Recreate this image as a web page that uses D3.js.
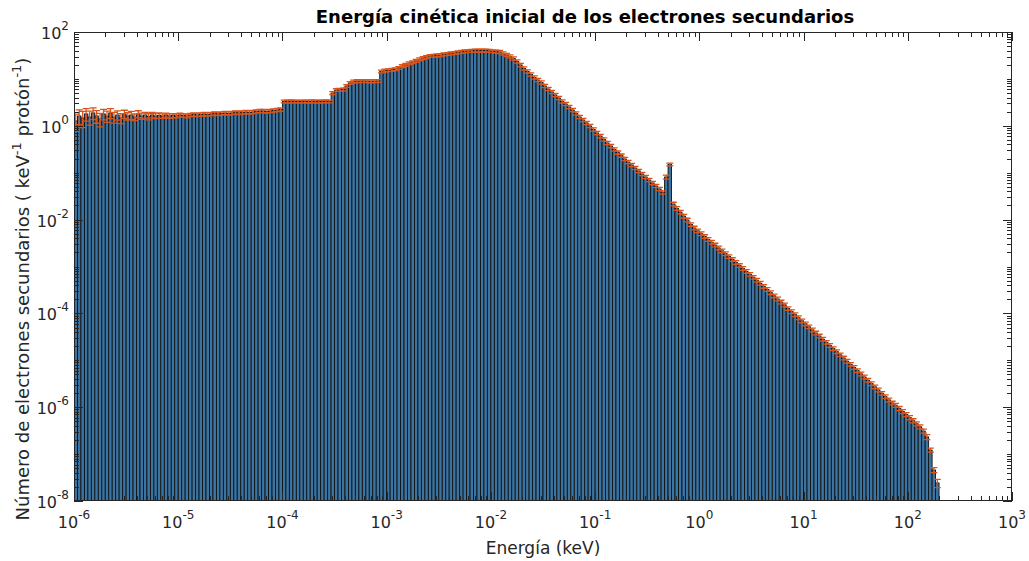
<!DOCTYPE html>
<html>
<head>
<meta charset="utf-8">
<script src="https://cdn.jsdelivr.net/npm/d3@7"></script>
<style>
  body { margin: 0; background: #fff; }
  text { font-family: "DejaVu Sans", sans-serif; fill: #262626; }
</style>
</head>
<body>
<svg id="chart" width="1029" height="561"></svg>
<script>
  // histogram of secondary electron initial kinetic energy, 30 log bins per decade from 1e-6 keV
  const firstEdge = 1e-6;
  const binsPerDecade = 30;

  // counts per bin (keV^-1 proton^-1)
  const counts = [
    1.27, 1.62, 1.47, 1.79, 1.54, 1.88, 1.62, 1.40, 1.79, 1.62,
    1.88, 1.54, 1.70, 1.47, 1.79, 1.62, 1.70, 1.54, 1.79, 1.62,
    1.70, 1.58, 1.70, 1.62, 1.66, 1.62, 1.70, 1.62, 1.66, 1.62,
    1.70, 1.66, 1.62, 1.70, 1.74, 1.70, 1.74, 1.79, 1.74, 1.79,
    1.83, 1.79, 1.83, 1.88, 1.83, 1.88, 1.92, 1.88, 1.92, 1.97,
    1.92, 1.97, 2.02, 2.07, 2.07, 2.02, 2.07, 2.12, 2.17, 2.23,
    3.30, 3.28, 3.32, 3.30, 3.27, 3.31, 3.30, 3.29, 3.33, 3.30,
    3.28, 3.30, 3.32, 3.30, 5.0, 5.8, 5.85, 5.95, 7.06, 8.18,
    8.8, 9.02, 8.95, 9.05, 9.0, 8.9, 9.0, 9.05, 14.4, 15.1,
    15.3, 15.6, 16.1, 17.1, 18.7, 20.0, 21.6, 22.7, 24.3, 26.2,
    27.9, 29.3, 30.8, 31.1, 31.7, 32.3, 33.3, 34.1, 35.0, 35.8,
    36.9, 37.8, 38.6, 39.4, 39.7, 40.1, 40.3, 40.3, 40.1, 39.7,
    39.0, 38.2, 37.5, 34.8, 32.3, 30.0, 27.2, 23.5, 19.8, 16.7,
    14.4, 12.4, 10.7, 9.48, 8.38, 7.06, 6.09, 5.26, 4.54, 3.92,
    3.30, 2.92, 2.52, 2.17, 1.83, 1.54, 1.33, 1.15, 0.99, 0.834,
    0.702, 0.605, 0.510, 0.430, 0.371, 0.312, 0.269, 0.232, 0.196, 0.169,
    0.146, 0.126, 0.109, 0.0938, 0.0809, 0.0698, 0.0603, 0.0520, 0.0449, 0.0378,
    0.0809, 0.150, 0.0215, 0.0173, 0.0145, 0.0119, 0.00980, 0.00785, 0.00662, 0.00577,
    0.00500, 0.00436, 0.00378, 0.00330, 0.00287, 0.00249, 0.00216, 0.00188, 0.00163, 0.00141,
    0.00122, 0.00105, 9.12e-4, 7.87e-4, 6.82e-4, 5.89e-4, 5.11e-4, 4.41e-4, 3.78e-4, 3.24e-4,
    2.78e-4, 2.37e-4, 2.03e-4, 1.75e-4, 1.52e-4, 1.27e-4, 1.09e-4, 9.42e-5, 8.09e-5, 6.95e-5,
    6.00e-5, 5.18e-5, 4.45e-5, 3.82e-5, 3.30e-5, 2.82e-5, 2.42e-5, 2.08e-5, 1.78e-5, 1.53e-5,
    1.31e-5, 1.12e-5, 9.57e-6, 8.22e-6, 7.06e-6, 6.03e-6, 5.13e-6, 4.41e-6, 3.75e-6, 3.18e-6,
    2.72e-6, 2.33e-6, 1.98e-6, 1.68e-6, 1.43e-6, 1.23e-6, 1.10e-6, 9.42e-7, 8.09e-7, 6.98e-7,
    6.00e-7, 5.15e-7, 4.43e-7, 3.82e-7, 3.10e-7, 2.32e-7, 1.22e-7, 4.58e-8, 2.42e-8
  ];

  // relative statistical error of each bin
  const relErr = [
    0.40, 0.35, 0.38, 0.30, 0.33, 0.28, 0.30, 0.32, 0.25, 0.27,
    0.24, 0.26, 0.22, 0.24, 0.20, 0.18, 0.19, 0.16, 0.17, 0.15,
    0.14, 0.15, 0.13, 0.12, 0.13, 0.11, 0.10, 0.11, 0.10, 0.09,
    0.09, 0.08, 0.09, 0.08, 0.08, 0.08, 0.08, 0.08, 0.08, 0.08,
    0.08, 0.08, 0.08, 0.08, 0.08, 0.08, 0.08, 0.08, 0.08, 0.08,
    0.08, 0.08, 0.08, 0.08, 0.08, 0.08, 0.08, 0.08, 0.08, 0.08,
    0.07, 0.07, 0.07, 0.07, 0.07, 0.07, 0.07, 0.07, 0.07, 0.07,
    0.07, 0.07, 0.07, 0.07, 0.07, 0.07, 0.07, 0.07, 0.07, 0.07,
    0.07, 0.07, 0.07, 0.07, 0.07, 0.07, 0.07, 0.07, 0.07, 0.07,
    0.07, 0.07, 0.07, 0.07, 0.07, 0.07, 0.07, 0.07, 0.07, 0.07,
    0.07, 0.07, 0.07, 0.07, 0.07, 0.07, 0.07, 0.07, 0.07, 0.07,
    0.07, 0.07, 0.07, 0.07, 0.07, 0.07, 0.07, 0.07, 0.07, 0.07,
    0.07, 0.07, 0.08, 0.08, 0.08, 0.08, 0.08, 0.08, 0.08, 0.08,
    0.08, 0.08, 0.08, 0.08, 0.08, 0.08, 0.08, 0.08, 0.08, 0.08,
    0.08, 0.08, 0.08, 0.08, 0.08, 0.08, 0.08, 0.08, 0.08, 0.08,
    0.08, 0.08, 0.08, 0.08, 0.08, 0.08, 0.08, 0.08, 0.08, 0.08,
    0.08, 0.08, 0.08, 0.08, 0.08, 0.08, 0.08, 0.08, 0.08, 0.08,
    0.10, 0.07, 0.09, 0.09, 0.09, 0.09, 0.09, 0.09, 0.09, 0.09,
    0.09, 0.09, 0.09, 0.09, 0.09, 0.09, 0.09, 0.09, 0.09, 0.09,
    0.09, 0.09, 0.09, 0.09, 0.09, 0.09, 0.09, 0.09, 0.09, 0.09,
    0.09, 0.09, 0.09, 0.09, 0.09, 0.09, 0.09, 0.09, 0.09, 0.09,
    0.09, 0.09, 0.09, 0.09, 0.09, 0.09, 0.09, 0.09, 0.09, 0.09,
    0.09, 0.09, 0.09, 0.09, 0.09, 0.09, 0.09, 0.09, 0.09, 0.09,
    0.09, 0.09, 0.09, 0.09, 0.09, 0.09, 0.10, 0.10, 0.10, 0.10,
    0.10, 0.10, 0.10, 0.10, 0.10, 0.12, 0.10, 0.12, 0.20
  ];

  const xTickExps = [-6, -5, -4, -3, -2, -1, 0, 1, 2, 3];
  const yTickExps = [-8, -6, -4, -2, 0, 2];

  const svg = d3.select("#chart");
  const pLeft = 74, pRight = 1012, pTop = 32, pBottom = 501;

  const x = d3.scaleLog().domain([1e-6, 1e3]).range([pLeft, pRight]);
  const y = d3.scaleLog().domain([1e-8, 1e2]).range([pBottom, pTop]);

  const edges = d3.range(counts.length + 1).map(i => firstEdge * Math.pow(10, i / binsPerDecade));

  svg.append("defs").append("clipPath").attr("id", "clip")
    .append("rect").attr("x", pLeft).attr("y", pTop).attr("width", pRight - pLeft).attr("height", pBottom - pTop);

  const plot = svg.append("g").attr("clip-path", "url(#clip)");

  plot.append("g").selectAll("rect")
    .data(counts)
    .join("rect")
      .attr("x", (d, i) => x(edges[i]))
      .attr("width", (d, i) => x(edges[i + 1]) - x(edges[i]))
      .attr("y", d => y(d))
      .attr("height", d => pBottom - y(d))
      .attr("fill", "#3a74a3")
      .attr("stroke", "#111")
      .attr("stroke-width", 0.9);

  // error bars
  const eb = plot.append("g").attr("stroke", "#D95319").attr("stroke-width", 1.3).attr("fill", "none");
  counts.forEach((d, i) => {
    const cx = (x(edges[i]) + x(edges[i + 1])) / 2;
    const yHi = y(d * (1 + relErr[i]));
    const yLo = y(Math.max(d * (1 - relErr[i]), 1e-9));
    eb.append("path")
      .attr("d", `M${cx},${yLo}L${cx},${yHi}M${cx - 3.5},${yHi}L${cx + 3.5},${yHi}M${cx - 3.5},${yLo}L${cx + 3.5},${yLo}`);
  });

  // box and ticks
  const axisColor = "#262626";
  const ax = svg.append("g").attr("stroke", axisColor).attr("fill", "none").attr("stroke-width", 1);
  ax.append("rect").attr("x", pLeft + 0.5).attr("y", pTop + 0.5)
    .attr("width", pRight - pLeft - 1).attr("height", pBottom - pTop - 1);

  const majorLen = 9, minorLen = 5;
  const isPow10 = v => Math.abs(Math.log10(v) - Math.round(Math.log10(v))) < 1e-9;

  x.ticks(30).forEach(t => {
    const xp = Math.round(x(t)) + 0.5;
    const len = isPow10(t) ? majorLen : minorLen;
    ax.append("path").attr("d", `M${xp},${pBottom}V${pBottom - len}M${xp},${pTop}V${pTop + len}`);
  });

  const yMajor = new Set(yTickExps);
  y.ticks(30).forEach(t => {
    const yp = Math.round(y(t)) + 0.5;
    const e = Math.round(Math.log10(t));
    const len = (isPow10(t) && yMajor.has(e)) ? majorLen : minorLen;
    ax.append("path").attr("d", `M${pLeft},${yp}H${pLeft + len}M${pRight},${yp}H${pRight - len}`);
  });

  // tick labels
  xTickExps.forEach(e => {
    const t = svg.append("text")
      .attr("x", x(Math.pow(10, e)))
      .attr("y", 528)
      .attr("text-anchor", "middle")
      .attr("font-size", 16);
    t.append("tspan").text("10");
    t.append("tspan").attr("dy", -9).attr("font-size", 12).text(e);
  });

  yTickExps.forEach(e => {
    const t = svg.append("text")
      .attr("x", 69)
      .attr("y", y(Math.pow(10, e)) + 7)
      .attr("text-anchor", "end")
      .attr("font-size", 16);
    t.append("tspan").text("10");
    t.append("tspan").attr("dy", -9).attr("font-size", 12).text(e);
  });

  // titles
  svg.append("text")
    .attr("x", 585).attr("y", 23)
    .attr("text-anchor", "middle")
    .attr("font-size", 18).attr("font-weight", "bold")
    .style("fill", "#000")
    .text("Energía cinética inicial de los electrones secundarios");

  svg.append("text")
    .attr("x", (pLeft + pRight) / 2).attr("y", 554)
    .attr("text-anchor", "middle")
    .attr("font-size", 17)
    .text("Energía (keV)");

  const yl = svg.append("text")
    .attr("transform", "translate(29,289) rotate(-90)")
    .attr("text-anchor", "middle")
    .attr("font-size", 18);
  yl.append("tspan").text("Número de electrones secundarios ( keV");
  yl.append("tspan").attr("dy", -8).attr("font-size", 13).text("-1");
  yl.append("tspan").attr("dy", 8).text(" protón");
  yl.append("tspan").attr("dy", -8).attr("font-size", 13).text("-1");
  yl.append("tspan").attr("dy", 8).text(")");
</script>
</body>
</html>
